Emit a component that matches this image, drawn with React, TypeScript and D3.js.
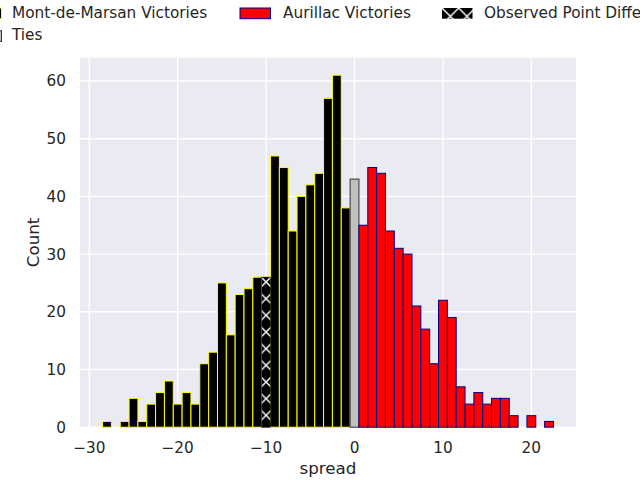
import React from "react";
import * as d3 from "d3";

// ---- Data ----
const montSpreads = [-28, -27, -26, -25, -24, -23, -22, -21, -20, -19, -18, -17, -16, -15, -14, -13, -12, -11, -10, -9, -8, -7, -6, -5, -4, -3, -2, -1];
const montCounts = [1, 0, 1, 5, 1, 4, 6, 8, 4, 6, 4, 11, 13, 25, 16, 23, 24, 26, 26, 47, 45, 34, 40, 42, 44, 57, 61, 38];
const tieSpreads = [0];
const tieCounts = [43];
const aurSpreads = [1, 2, 3, 4, 5, 6, 7, 8, 9, 10, 11, 12, 13, 14, 15, 16, 17, 18, 19, 20, 21, 22];
const aurCounts = [35, 45, 44, 34, 31, 30, 21, 17, 11, 22, 19, 7, 4, 6, 4, 5, 5, 2, 0, 2, 0, 1];
const observedSpread = -10;
const observedCount = 26;
const xTicks = [-30, -20, -10, 0, 10, 20];
const yTicks = [0, 10, 20, 30, 40, 50, 60];
const legendLabels = ["Mont-de-Marsan Victories", "Aurillac Victories", "Observed Point Difference", "Ties"];

// ---- Layout ----
const W = 640, H = 480;
const L = 80, R = 576, T = 57.6, B = 427.2;
const FONT = "'DejaVu Sans', sans-serif";
const TXT = "#262626";

export default function App() {
  const x = d3.scaleLinear().domain([-31.05, 25.05]).range([L, R]);
  const y = d3.scaleLinear().domain([0, 64.05]).range([B, T]);
  const bw = x(0.5) - x(-0.5);
  const hs = 16.667;
  const obsX = x(observedSpread);

  const bars = (spreads: number[], counts: number[], fill: string, stroke: string, key: string) =>
    spreads.map((s, i) =>
      counts[i] > 0 ? (
        <rect key={key + s} x={x(s - 0.5)} y={y(counts[i])} width={bw} height={y(0) - y(counts[i])}
          fill={fill} stroke={stroke} strokeWidth={1} />
      ) : null
    );

  const legendItems = [
    { label: legendLabels[0], hx: -29, tx: 12, row: 0, fill: "black", stroke: "yellow" },
    { label: legendLabels[1], hx: 240, tx: 283, row: 0, fill: "red", stroke: "#00008b" },
    { label: legendLabels[2], hx: 442, tx: 484, row: 0, fill: "url(#hatchLeg)", stroke: "none" },
    { label: legendLabels[3], hx: -29, tx: 12, row: 1, fill: "silver", stroke: "#333" },
  ];

  return (
    <svg width={W} height={H} style={{ position: "absolute", left: 0, top: 0, background: "white" }} fontFamily={FONT}>
      <defs>
        <pattern id="hatchBar" patternUnits="userSpaceOnUse" width={hs} height={hs} x={obsX} y={282 % hs}>
          <rect width={hs} height={hs} fill="black" />
          <path d={`M0,0L${hs},${hs}M0,${hs}L${hs},0`} stroke="white" strokeWidth={1.4} />
        </pattern>
        <pattern id="hatchLeg" patternUnits="userSpaceOnUse" width={hs} height={hs} x={442} y={8}>
          <rect width={hs} height={hs} fill="black" />
          <path d={`M0,0L${hs},${hs}M0,${hs}L${hs},0`} stroke="white" strokeWidth={1.4} />
        </pattern>
      </defs>
      <rect x={L} y={T} width={R - L} height={B - T} fill="#EAEAF2" />
      {xTicks.map((t) => (
        <line key={"gx" + t} x1={x(t)} x2={x(t)} y1={T} y2={B} stroke="white" strokeWidth={1.4} />
      ))}
      {yTicks.map((t) => (
        <line key={"gy" + t} x1={L} x2={R} y1={y(t)} y2={y(t)} stroke="white" strokeWidth={1.4} />
      ))}
      {bars(montSpreads, montCounts, "black", "yellow", "m")}
      {bars(tieSpreads, tieCounts, "silver", "#333", "t")}
      {bars(aurSpreads, aurCounts, "red", "#00008b", "a")}
      <rect x={x(observedSpread - 0.5)} y={y(observedCount)} width={bw} height={y(0) - y(observedCount)}
        fill="url(#hatchBar)" stroke="black" strokeWidth={0.6} />
      {xTicks.map((t) => (
        <text key={"tx" + t} x={x(t)} y={452.7} textAnchor="middle" fontSize={15.3} fill={TXT}>
          {t < 0 ? "\u2212" + Math.abs(t) : String(t)}
        </text>
      ))}
      {yTicks.map((t) => (
        <text key={"ty" + t} x={66} y={y(t)} dy="0.36em" textAnchor="end" fontSize={15.3} fill={TXT}>
          {t}
        </text>
      ))}
      <text x={(L + R) / 2} y={474} textAnchor="middle" fontSize={16.7} fill={TXT}>spread</text>
      <text transform={`translate(39,${(T + B) / 2}) rotate(-90)`} textAnchor="middle" fontSize={16.7} fill={TXT}>Count</text>
      {legendItems.map((it) => {
        const oy = it.row * 22.7;
        return (
          <g key={it.label}>
            <rect x={it.hx} y={8 + oy} width={30.5} height={10.7} fill={it.fill} stroke={it.stroke} strokeWidth={1} />
            <text x={it.tx} y={17.5 + oy} fontSize={15.3} fill={TXT}>{it.label}</text>
          </g>
        );
      })}
    </svg>
  );
}
